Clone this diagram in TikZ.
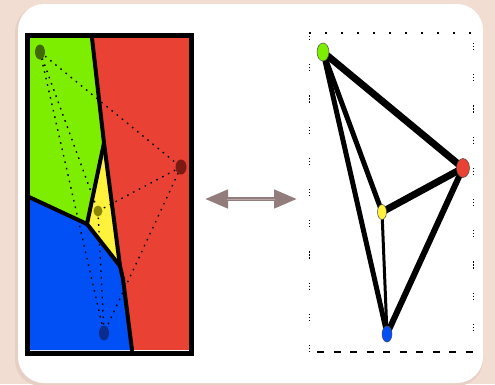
\documentclass[tikz,border=0pt]{standalone}
\usetikzlibrary{shapes.geometric,arrows.meta}
\definecolor{bgpink}{HTML}{F2DDD3}
\definecolor{shadowpink}{HTML}{E6CFC5}
\definecolor{vgreen}{HTML}{7EEE00}
\definecolor{vred}{HTML}{E94235}
\definecolor{vblue}{HTML}{0050F6}
\definecolor{vyellow}{HTML}{FFF23C}
\definecolor{sgreen}{HTML}{3E6A00}
\definecolor{sred}{HTML}{7A1A12}
\definecolor{syellow}{HTML}{8C8600}
\definecolor{sblue}{HTML}{0A2C8C}
\definecolor{arrowcol}{HTML}{927C7C}
\definecolor{arrowlight}{HTML}{B8A6A6}
\tikzset{
  seed/.style={ellipse,inner sep=0pt,minimum width=10pt,minimum height=15pt},
  dnode/.style={ellipse,draw=black!70,line width=0.5pt,inner sep=0pt,minimum width=12pt,minimum height=18pt},
  bound/.style={line width=4pt,line join=round,line cap=round},
  dotedge/.style={line width=1.4pt,dash pattern=on 1.6pt off 5pt},
  deledge/.style={line width=#1,line cap=round},
  framev/.style={line width=1pt,dash pattern=on 1.2pt off 1.8pt on 1.2pt off 1.8pt on 1.2pt off 24pt},
}
\begin{document}
\begin{tikzpicture}[x=1pt,y=-1pt]
\useasboundingbox (0,0) rectangle (495,384);
\fill[bgpink] (0,0) rectangle (495,384);
% card
\fill[shadowpink,rounded corners=26pt] (15,6) rectangle (483,386);
\fill[white,rounded corners=26pt] (18,4) rectangle (483,383);
% ---------- left panel: Voronoi ----------
\coordinate (TL) at (29,38);
\coordinate (TR) at (189,38);
\coordinate (BR) at (189,350);
\coordinate (BL) at (29,350);
\coordinate (A) at (92,38);
\coordinate (B) at (104,143);
\coordinate (C) at (87,224);
\coordinate (D) at (120,266);
\coordinate (E) at (123,279);
\coordinate (F) at (132,350);
\coordinate (G) at (29,197);
\fill[vred] (TL) rectangle (BR);
\fill[vgreen] (TL) -- (A) -- (B) -- (C) -- (G) -- cycle;
\fill[vyellow] (B) -- (C) -- (D) -- cycle;
\fill[vblue] (G) -- (C) -- (D) -- (E) -- (F) -- (BL) -- cycle;
\draw[bound] (A) -- (B) -- (D) -- (E) -- (F);
\draw[bound] (G) -- (C) -- (B);
\draw[bound] (C) -- (D);
\draw[line width=5pt] (27,35) rectangle (191,353);
% seed positions and dotted Delaunay edges
\coordinate (pg) at (40,52);
\coordinate (pr) at (181,167);
\coordinate (py) at (98,211);
\coordinate (pb) at (104,333);
\draw[dotedge] (pg) -- (pr);
\draw[dotedge] (pg) -- (py);
\draw[dotedge] (pg) -- (pb);
\draw[dotedge] (py) -- (pr);
\draw[dotedge] (pr) -- (pb);
\draw[dotedge] (py) -- (pb);
\node[seed,fill=sgreen] (sg) at (pg) {};
\node[seed,fill=sred,minimum width=11pt] (sr) at (pr) {};
\node[seed,fill=syellow,minimum width=9pt,minimum height=11pt] (sy) at (py) {};
\node[seed,fill=sblue] (sb) at (pb) {};
% ---------- arrow ----------
\coordinate (al) at (205,199);
\coordinate (ar) at (297,199);
\coordinate (al2) at (227,199);
\coordinate (ar2) at (275,199);
\draw[arrowcol,line width=4.5pt,{Triangle[length=23pt,width=18pt]}-{Triangle[length=23pt,width=18pt]}] (al) -- (ar);
\draw[arrowlight,line width=1pt] (al2) -- (ar2);
% ---------- right panel: Delaunay ----------
\coordinate (f1) at (309,33);
\coordinate (f2) at (473,33);
\coordinate (f2b) at (473,43);
\coordinate (f3) at (473,352);
\coordinate (f4) at (309,352);
\coordinate (f5) at (317,352);
\draw[line width=1.3pt,dash pattern=on 2pt off 14pt] (f1) -- (f2);
\draw[framev] (f1) -- (f4);
\draw[framev] (f2b) -- (f3);
\draw[line width=2pt,dash pattern=on 7pt off 9.5pt] (f5) -- (f3);
\coordinate (ng) at (323,52);
\coordinate (nr) at (463,168);
\coordinate (ny) at (382,212);
\coordinate (nb) at (387,334);
\draw[deledge=7pt] (ng) -- (nr);
\draw[deledge=7pt] (nr) -- (ny);
\draw[deledge=5pt] (ng) -- (ny);
\draw[deledge=5pt] (ng) -- (nb);
\draw[deledge=6pt] (nr) -- (nb);
\draw[deledge=3pt] (ny) -- (nb);
\node[dnode,fill=vgreen] (ngn) at (ng) {};
\node[dnode,fill=vred,minimum width=13pt,minimum height=19pt] (nrn) at (nr) {};
\node[dnode,fill=vyellow,minimum width=9pt,minimum height=15pt] (nyn) at (ny) {};
\node[dnode,fill=vblue,minimum width=10pt,minimum height=16pt] (nbn) at (nb) {};
\end{tikzpicture}
\end{document}
